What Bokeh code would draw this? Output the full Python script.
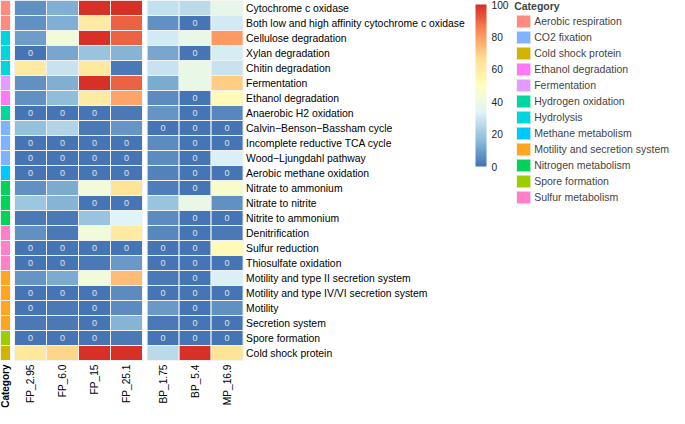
import numpy as np
from bokeh.plotting import figure
from bokeh.models import (ColumnDataSource, LinearColorMapper, ColorBar, FixedTicker,
                          Legend, LegendItem, Range1d)
from bokeh.core.properties import value
from bokeh.embed import file_html
from bokeh.resources import INLINE

# ---------------- data ----------------
samples = ["FP_2.95", "FP_6.0", "FP_15", "FP_25.1", "BP_1.75", "BP_5.4", "MP_16.9"]
sample_block = [0, 0, 0, 0, 1, 1, 1]

functions = [
    "Cytochrome c oxidase",
    "Both low and high affinity cytochrome c oxidase",
    "Cellulose degradation",
    "Xylan degradation",
    "Chitin degradation",
    "Fermentation",
    "Ethanol degradation",
    "Anaerobic H2 oxidation",
    "Calvin\u2212Benson\u2212Bassham cycle",
    "Incomplete reductive TCA cycle",
    "Wood\u2212Ljungdahl pathway",
    "Aerobic methane oxidation",
    "Nitrate to ammonium",
    "Nitrate to nitrite",
    "Nitrite to ammonium",
    "Denitrification",
    "Sulfur reduction",
    "Thiosulfate oxidation",
    "Motility and type II secretion system",
    "Motility and type IV/VI secretion system",
    "Motility",
    "Secretion system",
    "Spore formation",
    "Cold shock protein",
]

row_category = [
    "Aerobic respiration", "Aerobic respiration",
    "Hydrolysis", "Hydrolysis", "Hydrolysis",
    "Fermentation", "Ethanol degradation", "Hydrogen oxidation",
    "CO2 fixation", "CO2 fixation", "CO2 fixation",
    "Methane metabolism",
    "Nitrogen metabolism", "Nitrogen metabolism", "Nitrogen metabolism",
    "Sulfur metabolism", "Sulfur metabolism", "Sulfur metabolism",
    "Motility and secretion system", "Motility and secretion system",
    "Motility and secretion system", "Motility and secretion system",
    "Spore formation", "Cold shock protein",
]

fp_2_95 = [6, 6, 9, 0, 60, 6, 6, 0, 17, 0, 0, 0, 6, 19, 1, 6, 0, 0, 7, 0, 0, 1, 0, 62]
fp_6_0 = [13, 13, 42, 11, 29, 13, 16, 0, 23, 0, 0, 0, 12, 14, 1, 1, 0, 0, 12, 0, 1, 1, 0, 68]
fp_15 = [100, 60, 100, 18, 61, 100, 60, 0, 1, 0, 0, 0, 42, 0, 18, 42, 0, 1, 42, 0, 0, 0, 0, 100]
fp_25_1 = [100, 90, 90, 14, 1, 90, 78, 1, 7, 0, 0, 0, 64, 0, 33, 60, 0, 8, 73, 5, 5, 14, 1, 100]
bp_1_75 = [27, 6, 30, 11, 29, 12, 5, 7, 0, 5, 5, 3, 2, 18, 5, 4, 0, 0, 1, 0, 8, 1, 0, 25]
bp_5_4 = [25, 0, 38, 0, 38, 38, 0, 0, 0, 0, 0, 0, 0, 38, 0, 0, 0, 0, 0, 0, 0, 0, 0, 100]
mp_16_9 = [37, 30, 80, 31, 28, 70, 52, 4, 0, 0, 32, 0, 46, 6, 0, 1, 52, 0, 32, 0, 6, 0, 0, 64]
sample_values = [fp_2_95, fp_6_0, fp_15, fp_25_1, bp_1_75, bp_5_4, mp_16_9]

legend_categories = [
    "Aerobic respiration", "CO2 fixation", "Cold shock protein", "Ethanol degradation",
    "Fermentation", "Hydrogen oxidation", "Hydrolysis", "Methane metabolism",
    "Motility and secretion system", "Nitrogen metabolism", "Spore formation",
    "Sulfur metabolism",
]
category_colors = [
    "#FF8A80", "#80B3FF", "#D1B300", "#FF78F5", "#E29CFF", "#00D6A0",
    "#00D5DE", "#00C8FF", "#FFA51F", "#00D25A", "#9BCD00", "#FF80C8",
]

colorbar_ticks = [0, 20, 40, 60, 80, 100]

# ---------------- layout constants ----------------
W, H = 669, 408
ANN_L, ANN_R = 0.0, 10.0
X0 = 14.0
CW = 32.0
GAP = 4.6
Y0 = 0.0
RH = 15.0
FONT = "Liberation Sans"


def interp_palette(colors, n):
    rgb = np.array([[int(c[i:i + 2], 16) for i in (1, 3, 5)] for c in colors], dtype=float)
    pos = np.linspace(0, 1, len(colors))
    t = np.linspace(0, 1, n)
    out = []
    for tt in t:
        r = np.interp(tt, pos, rgb[:, 0])
        g = np.interp(tt, pos, rgb[:, 1])
        b = np.interp(tt, pos, rgb[:, 2])
        out.append("#%02x%02x%02x" % (int(round(r)), int(round(g)), int(round(b))))
    return out


base = ["#4575B4", "#91BFDB", "#E0F3F8", "#FFFFBF", "#FEE090", "#FC8D59", "#D73027"]
palette = interp_palette(base, 100)
mapper = LinearColorMapper(palette=palette, low=0, high=100)

p = figure(width=W, height=H, output_backend="svg", toolbar_location=None,
           x_range=Range1d(0, W), y_range=Range1d(H, 0),
           x_axis_type=None, y_axis_type=None, min_border=0)
p.outline_line_color = None
p.grid.visible = False
p.background_fill_color = "white"

# heatmap cells
n_rows = len(functions)
col_left = [X0 + j * CW + sample_block[j] * GAP for j in range(len(samples))]
cells = dict(left=[], right=[], top=[], bottom=[], value=[], cx=[], cy=[])
for j, vals in enumerate(sample_values):
    for i, v in enumerate(vals):
        l = col_left[j]
        t = Y0 + i * RH
        cells["left"].append(l)
        cells["right"].append(l + CW)
        cells["top"].append(t)
        cells["bottom"].append(t + RH)
        cells["value"].append(v)
        cells["cx"].append(l + CW / 2)
        cells["cy"].append(t + RH / 2)
src = ColumnDataSource(cells)
p.quad(left="left", right="right", top="top", bottom="bottom", source=src,
       fill_color={"field": "value", "transform": mapper},
       line_color="#F2F2F2", line_width=1)

zero_idx = [k for k, v in enumerate(cells["value"]) if v == 0]
zsrc = ColumnDataSource(dict(x=[cells["cx"][k] for k in zero_idx],
                             y=[cells["cy"][k] for k in zero_idx],
                             t=["0"] * len(zero_idx)))
p.text(x="x", y="y", text="t", source=zsrc, text_align="center", text_baseline="middle",
       text_font=value(FONT), text_font_size="9px", text_color="#E4E4E4")

# annotation column, one renderer per category (also used by the legend)
items = []
for cat, col in zip(legend_categories, category_colors):
    rows = [i for i, c in enumerate(row_category) if c == cat]
    s = ColumnDataSource(dict(left=[ANN_L] * len(rows), right=[ANN_R] * len(rows),
                              top=[Y0 + i * RH for i in rows],
                              bottom=[Y0 + (i + 1) * RH for i in rows]))
    r = p.quad(left="left", right="right", top="top", bottom="bottom", source=s,
               fill_color=col, line_color="#F4F4F4", line_width=1)
    items.append(LegendItem(label=cat, renderers=[r]))

# row labels
label_x = col_left[-1] + CW + 3
p.text(x=[label_x] * n_rows, y=[Y0 + (i + 0.5) * RH for i in range(n_rows)], text=functions,
       text_align="left", text_baseline="middle", text_font=value(FONT),
       text_font_size="10.4px", text_color="black")

# column labels
lab_y = Y0 + n_rows * RH + 4
p.text(x=[l + CW / 2 for l in col_left], y=[lab_y] * len(samples), text=samples,
       angle=np.pi / 2, text_align="right", text_baseline="middle",
       text_font=value(FONT), text_font_size="10.2px", text_color="black")
p.text(x=[(ANN_L + ANN_R) / 2], y=[lab_y], text=["Category"], angle=np.pi / 2,
       text_align="right", text_baseline="middle", text_font=value(FONT),
       text_font_size="10px", text_font_style="bold", text_color="black")

# colour bar
cb = ColorBar(color_mapper=mapper, ticker=FixedTicker(ticks=colorbar_ticks),
              width=11, height=162, location=(475, H - 166), padding=0, margin=0,
              label_standoff=5, major_tick_line_color=None, minor_tick_line_color=None,
              bar_line_color=None, border_line_color=None, background_fill_alpha=0,
              major_label_text_font=FONT, major_label_text_font_size="10.2px",
              major_label_text_color="#222222")
p.add_layout(cb)

# legend
leg = Legend(items=items, location="top_right", title="Category",
             title_text_font=FONT, title_text_font_style="bold", title_text_font_size="10.5px",
             title_standoff=1, label_text_font=FONT, label_text_font_size="10.5px",
             glyph_width=18, glyph_height=16, label_height=16, spacing=0,
             label_standoff=2, padding=0, margin=0, border_line_color=None,
             background_fill_alpha=0)
p.add_layout(leg)

with open("out.html", "w") as f:
    f.write(file_html(p, INLINE))
